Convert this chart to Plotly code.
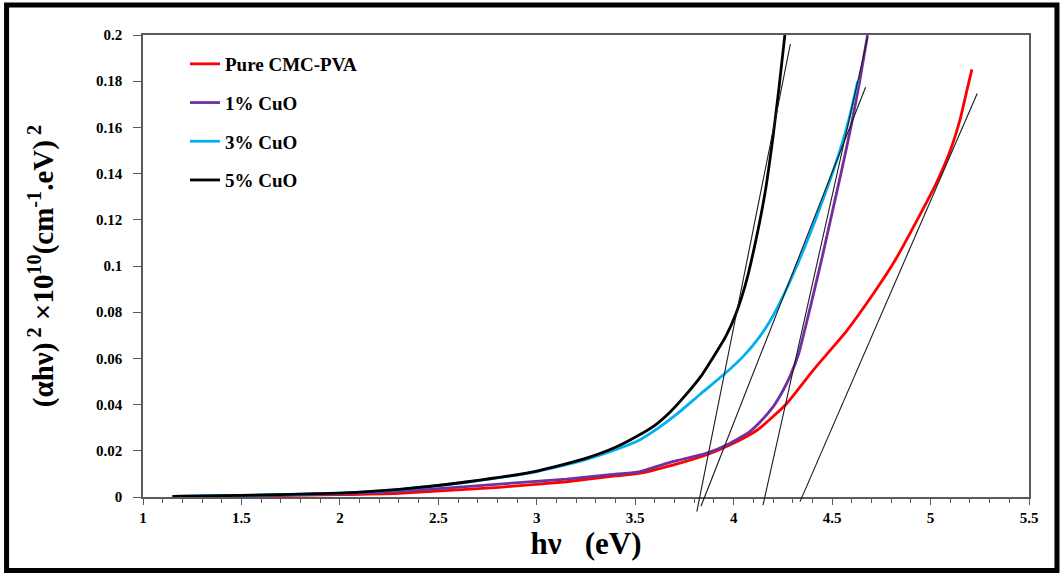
import plotly.graph_objects as go

# ---- Tauc plot data: photon energy hν (eV) vs (αhν)^2 ×10^10 ----
energy_pure = [1.15, 1.5, 2.0, 2.3, 2.81, 3.15, 3.40, 3.52, 3.69, 3.86, 3.98, 4.12,
               4.27, 4.40, 4.48, 4.57, 4.71, 4.82, 4.95, 5.03, 5.10, 5.15, 5.19, 5.21]
alpha_pure = [0.0002, 0.0004, 0.0010, 0.0016, 0.0042, 0.0066, 0.0091, 0.0102, 0.0138,
              0.0182, 0.0225, 0.0290, 0.0405, 0.0545, 0.0625, 0.0715, 0.0881, 0.1025,
              0.1228, 0.1360, 0.1500, 0.1635, 0.1780, 0.1851]

energy_cuo1 = [1.15, 1.5, 2.0, 2.3, 2.81, 3.15, 3.40, 3.52, 3.69, 3.86, 3.98, 4.08,
               4.14, 4.20, 4.25, 4.29, 4.33, 4.36, 4.40, 4.45, 4.50, 4.55, 4.60, 4.64,
               4.68]
alpha_cuo1 = [0.0003, 0.0006, 0.0014, 0.0024, 0.0056, 0.0077, 0.0099, 0.0109, 0.0153,
              0.0189, 0.0232, 0.0282, 0.0330, 0.0390, 0.0460, 0.0530, 0.0620, 0.0720,
              0.0860, 0.1040, 0.1230, 0.1420, 0.1620, 0.1800, 0.2000]

energy_cuo3 = [1.15, 1.5, 2.0, 2.3, 2.65, 2.98, 3.24, 3.40, 3.52, 3.62, 3.72, 3.83,
               3.95, 4.05, 4.12, 4.18, 4.24, 4.30, 4.36, 4.42, 4.48, 4.54, 4.59, 4.63]
alpha_cuo3 = [0.0003, 0.0007, 0.0017, 0.0032, 0.0065, 0.0107, 0.0160, 0.0205, 0.0246,
              0.0300, 0.0365, 0.0445, 0.0530, 0.0610, 0.0680, 0.0755, 0.0850, 0.0960,
              0.1080, 0.1210, 0.1350, 0.1500, 0.1650, 0.1800]

energy_cuo5 = [1.15, 1.5, 2.0, 2.3, 2.65, 2.98, 3.24, 3.40, 3.52, 3.60, 3.68, 3.76,
               3.84, 3.90, 3.96, 4.01, 4.06, 4.11, 4.16, 4.20, 4.23, 4.26]
alpha_cuo5 = [0.0003, 0.0007, 0.0017, 0.0033, 0.0066, 0.0109, 0.0165, 0.0215, 0.0268,
              0.0310, 0.0370, 0.0445, 0.0530, 0.0610, 0.0695, 0.0790, 0.0920, 0.1100,
              0.1320, 0.1560, 0.1770, 0.2000]

# linear extrapolations of the absorption edges (end points)
fit_pure_x, fit_pure_y = [4.337, 5.237], [-0.0020, 0.1747]
fit_cuo1_x, fit_cuo1_y = [4.149, 4.680], [-0.0035, 0.1990]
fit_cuo3_x, fit_cuo3_y = [3.834, 4.670], [-0.0040, 0.1774]
fit_cuo5_x, fit_cuo5_y = [3.813, 4.288], [-0.0063, 0.1962]

series_names = ["Pure CMC-PVA", "1% CuO", "3% CuO", "5% CuO"]
series_colors = ["#FF0000", "#7030A0", "#00B0F0", "#000000"]

x_ticks = [1, 1.5, 2, 2.5, 3, 3.5, 4, 4.5, 5, 5.5]
y_ticks = [0, 0.02, 0.04, 0.06, 0.08, 0.1, 0.12, 0.14, 0.16, 0.18, 0.2]

# ---- page geometry (px) ----
W, H = 1062, 574
LEFT, RIGHT = 143, 1029.5
TOP = 35
AXIS_Y = 497          # y = 0 line
EXT_Y = 512           # lower edge of the overlay used for the fit lines
BOTTOM = H - EXT_Y

main_bottom = (EXT_Y - AXIS_Y) / (EXT_Y - TOP)
y2_min = -0.2 * (EXT_Y - AXIS_Y) / (AXIS_Y - TOP)

FONT = "Liberation Serif"
AXIS_COLOR = "#5a5a5a"


def px_x(p):
    return (p - LEFT) / (RIGHT - LEFT)


def px_y(p):
    return (EXT_Y - p) / (EXT_Y - TOP)


fig = go.Figure()

curves = [(energy_pure, alpha_pure), (energy_cuo1, alpha_cuo1),
          (energy_cuo3, alpha_cuo3), (energy_cuo5, alpha_cuo5)]
for i, ((xs, ys), name, color) in enumerate(zip(curves, series_names, series_colors)):
    fig.add_trace(go.Scatter(
        x=xs, y=ys, mode="lines", name=name,
        line=dict(color=color, width=2.8, shape="spline", smoothing=0.5),
        legendgroup=f"g{i}", xaxis="x", yaxis="y"))

fits = [(fit_pure_x, fit_pure_y), (fit_cuo1_x, fit_cuo1_y),
        (fit_cuo3_x, fit_cuo3_y), (fit_cuo5_x, fit_cuo5_y)]
for xs, ys in fits:
    fig.add_trace(go.Scatter(
        x=xs, y=ys, mode="lines", showlegend=False, hoverinfo="skip",
        line=dict(color="#1a1a1a", width=1.1), xaxis="x2", yaxis="y2"))

tick_font = dict(family=FONT, size=15, color="#000000", weight="bold")

fig.update_layout(
    width=W, height=H,
    margin=dict(l=LEFT, r=W - RIGHT, t=TOP, b=BOTTOM, autoexpand=False),
    paper_bgcolor="#FFFFFF",
    plot_bgcolor="rgba(0,0,0,0)",
    xaxis=dict(
        domain=[0, 1], anchor="y", range=[1, 5.5],
        tickvals=x_ticks, ticktext=[f"{v:g}" for v in x_ticks],
        ticks="outside", ticklen=6, tickwidth=1, tickcolor=AXIS_COLOR,
        minor=dict(ticks="outside", dtick=0.1, tick0=1, ticklen=4,
                   tickwidth=1, tickcolor=AXIS_COLOR, showgrid=False),
        showline=True, linecolor=AXIS_COLOR, linewidth=1.5, mirror=True,
        showgrid=False, zeroline=False, tickfont=tick_font,
        title=dict(text="hν\u00a0\u00a0\u00a0(eV)", standoff=6,
                   font=dict(family=FONT, size=31, color="#000000", weight="bold")),
    ),
    yaxis=dict(
        domain=[main_bottom, 1], anchor="x", range=[0, 0.2],
        tickvals=y_ticks, ticktext=[f"{v:g}" for v in y_ticks],
        ticks="outside", ticklen=8, tickwidth=1, tickcolor=AXIS_COLOR,
        ticklabelstandoff=8,
        showline=True, linecolor=AXIS_COLOR, linewidth=1.5, mirror=True,
        showgrid=False, zeroline=False, tickfont=tick_font,
        title=dict(text="(αhν)<sup> 2</sup> ×10<sup>10</sup>(cm<sup>-1</sup>.eV)<sup> 2</sup>",
                   standoff=34,
                   font=dict(family=FONT, size=29, color="#000000", weight="bold")),
    ),
    xaxis2=dict(domain=[0, 1], anchor="y2", range=[1, 5.5], visible=False),
    yaxis2=dict(domain=[0, 1], anchor="x2", range=[y2_min, 0.2], visible=False),
    legend=dict(
        x=px_x(185), y=px_y(45), xanchor="left", yanchor="top",
        traceorder="grouped", tracegroupgap=11, itemwidth=30,
        bgcolor="rgba(0,0,0,0)",
        font=dict(family=FONT, size=19, color="#000000", weight="bold"),
    ),
    shapes=[
        # outer frame around the whole figure
        dict(type="rect", xref="paper", yref="paper",
             x0=px_x(6.5), x1=px_x(1057.5), y0=px_y(570.5), y1=px_y(5),
             line=dict(color="#000000", width=5), layer="above"),
    ],
)

fig.write_html("out.html")
